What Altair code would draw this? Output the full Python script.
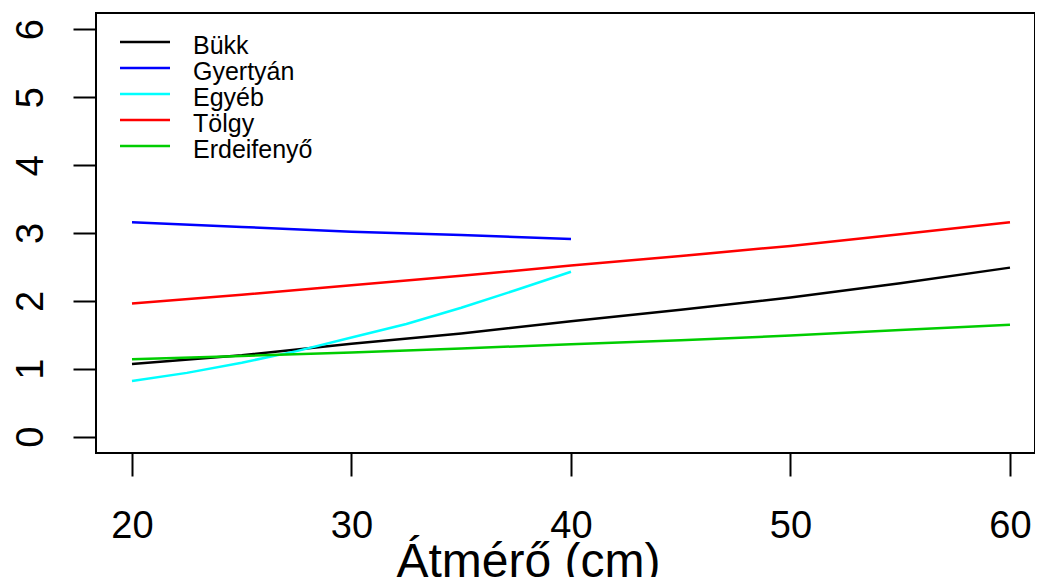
import altair as alt
import pandas as pd

# ---- data ----
series = ["Bükk", "Gyertyán", "Egyéb", "Tölgy", "Erdeifenyő"]
colors = ["#000000", "#0000FF", "#00FFFF", "#FF0000", "#00CD00"]

x_bukk = [20, 25, 30, 35, 40, 45, 50, 55, 60]
y_bukk = [1.07, 1.20, 1.37, 1.52, 1.70, 1.87, 2.05, 2.26, 2.49]

x_gyertyan = [20, 25, 30, 35, 40]
y_gyertyan = [3.16, 3.09, 3.02, 2.97, 2.91]

x_egyeb = [20, 22.5, 25, 27.5, 30, 32.5, 35, 37.5, 40]
y_egyeb = [0.82, 0.94, 1.09, 1.26, 1.46, 1.66, 1.90, 2.16, 2.43]

x_tolgy = [20, 25, 30, 35, 40, 45, 50, 55, 60]
y_tolgy = [1.96, 2.09, 2.23, 2.37, 2.52, 2.66, 2.81, 2.98, 3.16]

x_erdei = [20, 25, 30, 35, 40, 45, 50, 55, 60]
y_erdei = [1.14, 1.19, 1.24, 1.30, 1.36, 1.42, 1.49, 1.57, 1.65]

x_ticks = [20, 30, 40, 50, 60]
y_ticks = [0, 1, 2, 3, 4, 5, 6]
x_title = "Átmérő (cm)"

# ---- build long table ----
rows = []
for name, xs, ys in zip(series,
                        [x_bukk, x_gyertyan, x_egyeb, x_tolgy, x_erdei],
                        [y_bukk, y_gyertyan, y_egyeb, y_tolgy, y_erdei]):
    for xv, yv in zip(xs, ys):
        rows.append({"series": name, "x": xv, "y": yv})
df = pd.DataFrame(rows)
leg_df = pd.DataFrame({"series": series})

FONT = "Liberation Sans"

xscale = alt.Scale(domain=[18.36, 61.14], nice=False, zero=False)
yscale = alt.Scale(domain=[-0.24, 6.24], nice=False, zero=False)
color = alt.Color("series:N", scale=alt.Scale(domain=series, range=colors), legend=None)

lines = alt.Chart(df).mark_line(strokeWidth=2.5).encode(
    x=alt.X("x:Q", scale=xscale,
            axis=alt.Axis(values=x_ticks, title=x_title, grid=False, domain=False,
                          tickSize=23, tickWidth=2, tickColor="black",
                          labelFont=FONT, labelFontSize=38, labelColor="black",
                          labelBaseline="alphabetic", labelPadding=61,
                          labelFlush=False, labelOverlap=False,
                          titleFont=FONT, titleFontSize=48, titleFontWeight="normal",
                          titleColor="black", titleX=432, titleY=123,
                          titleAlign="center", titleBaseline="alphabetic")),
    y=alt.Y("y:Q", scale=yscale,
            axis=alt.Axis(values=y_ticks, title=None, grid=False, domain=False,
                          tickSize=23, tickWidth=2, tickColor="black",
                          labelFont=FONT, labelFontSize=38, labelColor="black",
                          labelAngle=270, labelAlign="center",
                          labelBaseline="alphabetic", labelPadding=31,
                          labelFlush=False, labelOverlap=False)),
    color=color,
    detail="series:N",
    order="x:Q",
)

leg_y = alt.Y("series:N", sort=series,
              scale=alt.Scale(type="point", range=[29, 133], padding=0), axis=None)

leg_lines = alt.Chart(leg_df).mark_rule(strokeWidth=2.5).encode(
    x=alt.value(24), x2=alt.value(74), y=leg_y, color=color)

leg_text = alt.Chart(leg_df).mark_text(
    align="left", baseline="alphabetic", dy=12, fontSize=25, font=FONT, color="black"
).encode(x=alt.value(97), y=leg_y, text="series:N")

chart = alt.layer(lines, leg_lines, leg_text).resolve_scale(
    y="independent"
).properties(
    width=939, height=440,
    autosize=alt.AutoSizeParams(type="none"),
    padding={"left": 88, "top": 5, "right": 0, "bottom": 124},
    background="white",
).configure_view(stroke="black", strokeWidth=2)

chart.save("out.html", embed_options={"renderer": "svg", "actions": False})
